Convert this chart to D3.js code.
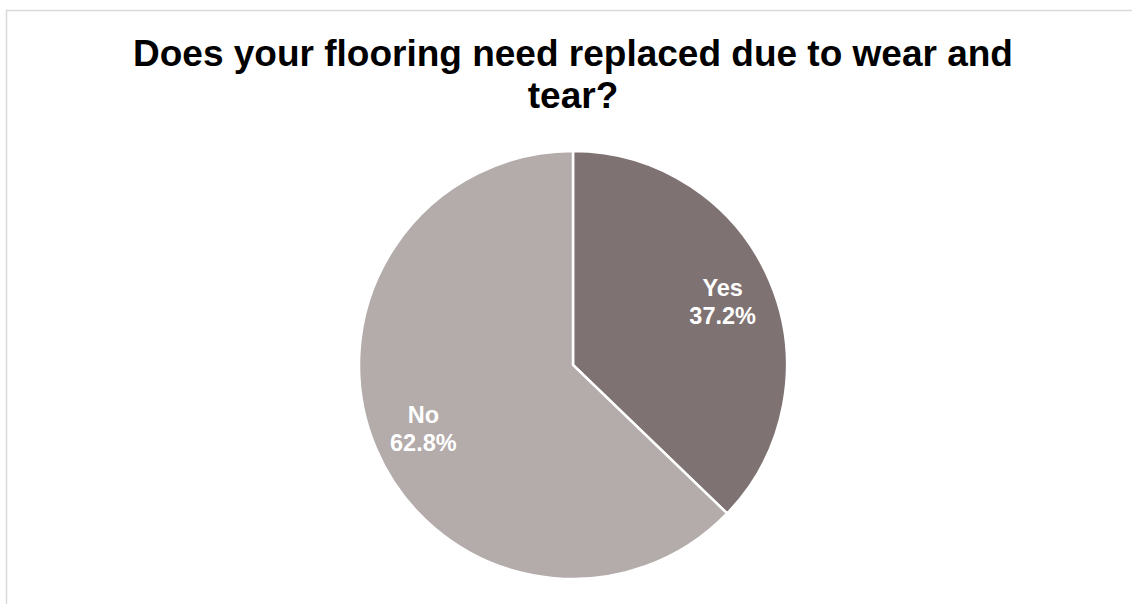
<!DOCTYPE html>
<html>
<head>
<meta charset="utf-8">
<script src="https://cdn.jsdelivr.net/npm/d3@7"></script>
<style>
  html, body { margin: 0; padding: 0; background: #ffffff; }
  svg { display: block; }
</style>
</head>
<body>
<script>
const categories = ["Yes", "No"];
const values = [37.2, 62.8];
const labels = ["37.2%", "62.8%"];
const colors = ["#7f7273", "#b4abab"];
const titleLines = ["Does your flooring need replaced due to wear and", "tear?"];

const W = 1132, H = 604;
const cx = 573, cy = 365, R = 214;

const svg = d3.select("body").append("svg").attr("width", W).attr("height", H);

svg.append("rect")
  .attr("x", 6.5).attr("y", 10.5)
  .attr("width", 1200).attr("height", 700)
  .attr("fill", "#ffffff")
  .attr("stroke", "#d9d9d9").attr("stroke-width", 1.5);

svg.append("g").selectAll("text").data(titleLines).join("text")
  .attr("x", cx)
  .attr("y", (d, i) => 65.5 + i * 42.5)
  .attr("text-anchor", "middle")
  .attr("font-family", "'Liberation Sans', Arial, sans-serif")
  .attr("font-weight", "bold")
  .attr("font-size", 37)
  .attr("fill", "#000000")
  .text(d => d);

const data = categories.map((c, i) => ({ cat: c, value: values[i], label: labels[i], color: colors[i] }));
const pie = d3.pie().value(d => d.value).sort(null);
const arcs = pie(data);
const arc = d3.arc().innerRadius(0).outerRadius(R);
const labelArc = d3.arc().innerRadius(R * 0.76).outerRadius(R * 0.76);

const g = svg.append("g").attr("transform", `translate(${cx},${cy})`);

g.selectAll("path").data(arcs).join("path")
  .attr("d", arc)
  .attr("fill", d => d.data.color)
  .attr("stroke", "#ffffff")
  .attr("stroke-width", 2.5)
  .attr("stroke-linejoin", "miter");

const lbl = g.selectAll("text.lbl").data(arcs).join("text")
  .attr("class", "lbl")
  .attr("transform", d => `translate(${labelArc.centroid(d)})`)
  .attr("text-anchor", "middle")
  .attr("font-family", "'Liberation Sans', Arial, sans-serif")
  .attr("font-weight", "bold")
  .attr("font-size", 23.5)
  .attr("fill", "#ffffff");
lbl.append("tspan").attr("x", 0).attr("y", -5.5).text(d => d.data.cat);
lbl.append("tspan").attr("x", 0).attr("y", 22.5).text(d => d.data.label);
</script>
</body>
</html>
